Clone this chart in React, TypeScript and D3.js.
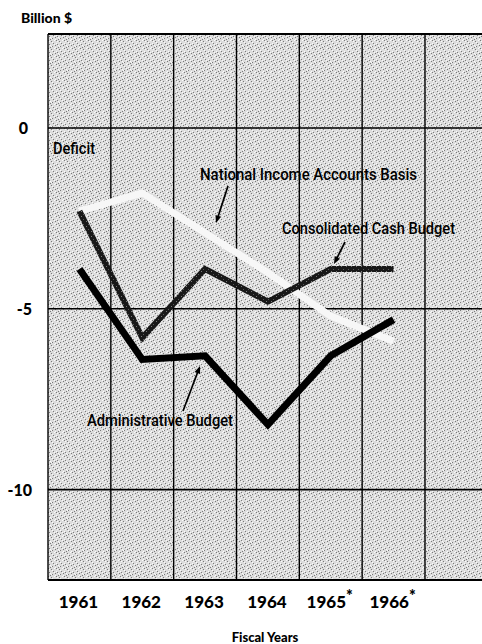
import React from "react";
import * as d3 from "d3";

const years = [1961, 1962, 1963, 1964, 1965, 1966];
const yearLabels = ["1961", "1962", "1963", "1964", "1965", "1966"];
const yearStars = [false, false, false, false, true, true];
const adminBudget = [-3.9, -6.4, -6.3, -8.2, -6.3, -5.3];
const cashBudget = [-2.3, -5.8, -3.9, -4.8, -3.9, -3.9];
const niaBasis = [-2.3, -1.8, -2.9, -4.0, -5.2, -5.9];
const yTicks = [0, -5, -10];
const gridYears = [1960.5, 1961.5, 1962.5, 1963.5, 1964.5, 1965.5, 1966.5, 1967.5];

const W = 482;
const H = 644;
const top = 34;
const bottom = 580;
const left = 48;

const x = d3.scaleLinear().domain([1960.5, 1967.5]).range([left, left + 7 * 62.83]);
const y = d3.scaleLinear().domain([2.6, -12.5]).range([top, bottom]);

const line = d3
  .line<number>()
  .x((_, i) => x(years[i]))
  .y((d) => y(d));

const narrow = "Roboto, 'Liberation Sans', sans-serif";
const bold = "Lato, 'DejaVu Sans', sans-serif";

// texture dots (decorative)
const darkDots = [
  [0, 0], [3, 1], [5, 3], [1, 4], [4, 6], [7, 5], [2, 7],
];
const lightDots = [
  [1, 1], [4, 2], [6, 4], [2, 5], [7, 7], [3, 6], [6, 0], [0, 3],
];

function Arrow({ x1, y1, x2, y2 }: { x1: number; y1: number; x2: number; y2: number }) {
  const ang = Math.atan2(y2 - y1, x2 - x1);
  const L = 8;
  const wA = 0.38;
  const p1 = [x2 - L * Math.cos(ang - wA), y2 - L * Math.sin(ang - wA)];
  const p2 = [x2 - L * Math.cos(ang + wA), y2 - L * Math.sin(ang + wA)];
  return (
    <g>
      <line x1={x1} y1={y1} x2={x2 - 4 * Math.cos(ang)} y2={y2 - 4 * Math.sin(ang)} stroke="#000" strokeWidth={1.7} />
      <path d={`M${x2},${y2}L${p1[0]},${p1[1]}L${p2[0]},${p2[1]}Z`} fill="#000" />
    </g>
  );
}

const annStyle = { fontWeight: 500 } as const;

export default function App() {
  return (
    <svg
      width={W}
      height={H}
      viewBox={`0 0 ${W} ${H}`}
      style={{ position: "absolute", left: 0, top: 0, background: "#fff" }}
    >
      <defs>
        <pattern id="stip" width={8} height={8} patternUnits="userSpaceOnUse">
          <rect width={8} height={8} fill="#dcdcdc" />
          {darkDots.map(([a, b], i) => (
            <rect key={i} x={a} y={b} width={1} height={1} fill="#7a7a7a" />
          ))}
          {lightDots.map(([a, b], i) => (
            <rect key={"l" + i} x={a} y={b} width={1} height={1} fill="#fafafa" />
          ))}
        </pattern>
        <pattern id="darkstip" width={5} height={5} patternUnits="userSpaceOnUse">
          <rect width={5} height={5} fill="#181818" />
          <rect x={1} y={1} width={1} height={1} fill="#7a7a7a" />
          <rect x={3} y={4} width={1} height={1} fill="#5a5a5a" />
        </pattern>
        <clipPath id="plotclip">
          <rect x={left} y={top} width={W - left} height={bottom - top} />
        </clipPath>
      </defs>

      {/* background */}
      <rect x={left} y={top} width={W - left} height={bottom - top} fill="url(#stip)" />

      {/* grid */}
      {gridYears.map((g) => (
        <line key={g} x1={x(g)} x2={x(g)} y1={top} y2={bottom} stroke="#000" strokeWidth={1.4} />
      ))}
      {yTicks.map((t) => (
        <line key={t} x1={left} x2={W} y1={y(t)} y2={y(t)} stroke="#000" strokeWidth={1.6} />
      ))}
      <line x1={left} x2={W} y1={top} y2={top} stroke="#000" strokeWidth={1.8} />
      <line x1={left} x2={W} y1={bottom} y2={bottom} stroke="#000" strokeWidth={1.8} />

      {/* series */}
      <g clipPath="url(#plotclip)">
        <path d={line(niaBasis) || ""} fill="none" stroke="#f7f7f7" strokeWidth={7} strokeLinejoin="miter" />
        <path d={line(cashBudget) || ""} fill="none" stroke="url(#darkstip)" strokeWidth={6} strokeLinejoin="miter" />
        <path d={line(adminBudget) || ""} fill="none" stroke="#000" strokeWidth={7} strokeLinejoin="miter" />
      </g>

      {/* annotations */}
      <text x={53} y={154} fontFamily={narrow} fontSize={16} textLength={42} lengthAdjust="spacingAndGlyphs" {...annStyle}>Deficit</text>
      <text x={200} y={180} fontFamily={narrow} fontSize={16} textLength={217} lengthAdjust="spacingAndGlyphs" {...annStyle}>National Income Accounts Basis</text>
      <text x={282} y={234} fontFamily={narrow} fontSize={16} textLength={173} lengthAdjust="spacingAndGlyphs" {...annStyle}>Consolidated Cash Budget</text>
      <text x={87} y={426} fontFamily={narrow} fontSize={16} textLength={146} lengthAdjust="spacingAndGlyphs" {...annStyle}>Administrative Budget</text>
      <Arrow x1={228} y1={186} x2={216} y2={223} />
      <Arrow x1={345} y1={242} x2={334} y2={264} />
      <Arrow x1={183} y1={411} x2={200} y2={366} />

      {/* y axis labels */}
      <text x={21} y={23} fontFamily={bold} fontWeight={900} fontSize={14}>Billion $</text>
      {yTicks.map((t) => (
        <text
          key={t}
          x={t === 0 ? 28 : 32}
          y={y(t) + 6}
          textAnchor="end"
          fontFamily={bold}
          fontWeight={900}
          fontSize={16}
        >
          {t === 0 ? "0" : "-" + Math.abs(t)}
        </text>
      ))}

      {/* x labels */}
      {years.map((yr, i) => (
        <text
          key={yr}
          x={x(yr) - 1}
          y={608}
          textAnchor="middle"
          fontFamily={bold}
          fontWeight={900}
          fontSize={17}
        >
          {yearLabels[i]}
          {yearStars[i] ? <tspan dy={-6} fontSize={16}>*</tspan> : null}
        </text>
      ))}
      <text x={265} y={642} textAnchor="middle" fontFamily={bold} fontWeight={900} fontSize={13}>Fiscal Years</text>
    </svg>
  );
}
